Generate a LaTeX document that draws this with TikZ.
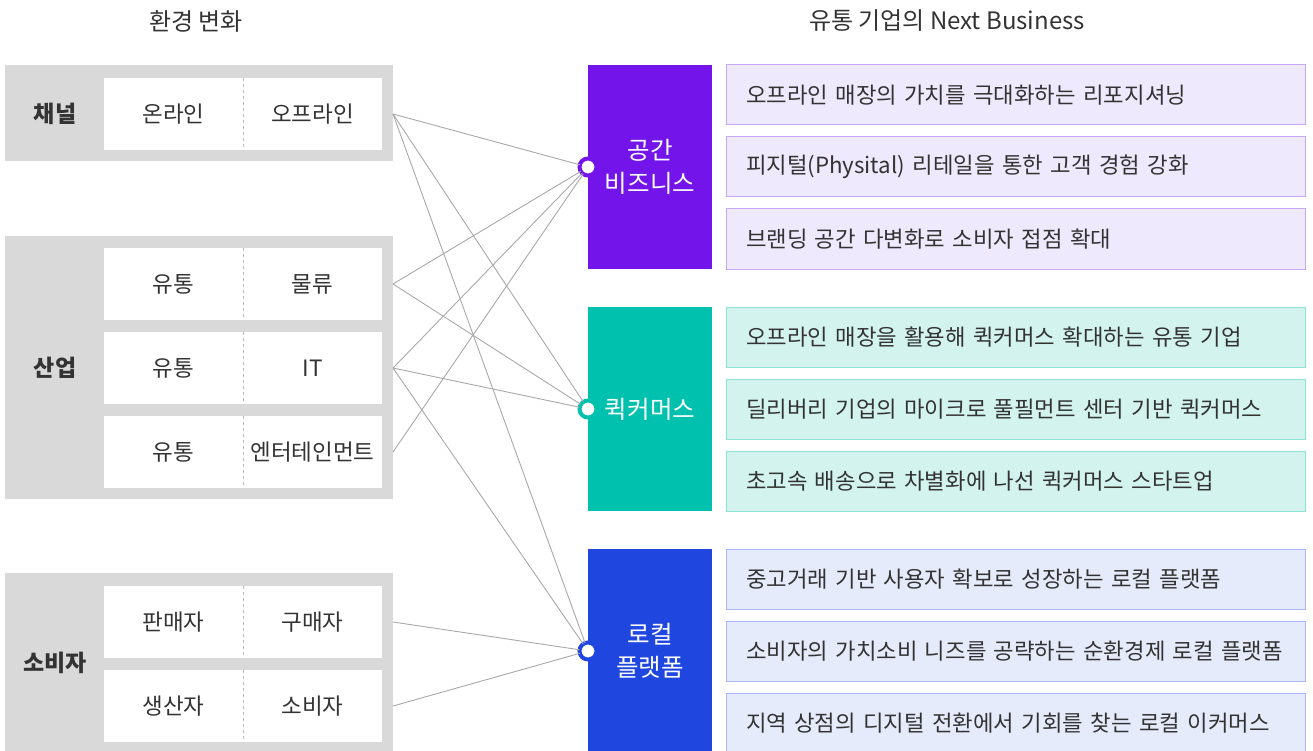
\documentclass[tikz,border=0pt]{standalone}
\usepackage{fontspec}
\setmainfont{Noto Sans CJK KR}
\definecolor{pgray}{HTML}{D9D9D9}
\definecolor{tdark}{HTML}{333333}
\definecolor{lgray}{HTML}{A8A8A8}
\definecolor{cpur}{HTML}{7214EA}
\definecolor{cteal}{HTML}{00C1AE}
\definecolor{cblue}{HTML}{1F47E0}
\definecolor{lpur}{HTML}{EEE9FC}
\definecolor{bpur}{HTML}{C6A8F4}
\definecolor{lteal}{HTML}{D3F3EF}
\definecolor{bteal}{HTML}{8FE0D6}
\definecolor{lblue}{HTML}{E6EBFB}
\definecolor{bblue}{HTML}{A9BAF2}
\begin{document}
\begin{tikzpicture}[x=1pt,y=-1pt,
  every node/.style={inner sep=0pt, outer sep=0pt},
  head/.style={text=tdark, font=\fontsize{24}{28}\selectfont},
  panel/.style={fill=pgray, minimum width=388pt, anchor=north west},
  plabel/.style={text=tdark, font=\bfseries\fontsize{23}{27}\selectfont},
  cell/.style={fill=white, minimum width=139pt, minimum height=72pt, text=tdark, font=\fontsize{22.5}{26}\selectfont},
  divider/.style={draw=lgray!80, dashed, line width=0.8pt},
  bigbox/.style={minimum width=124pt, minimum height=204pt, text=white, align=center, font=\fontsize{24.5}{33}\selectfont},
  desc/.style={draw=#1, line width=1pt, minimum height=60pt, text width=539pt, inner xsep=20pt, align=left, anchor=north west, text=tdark, font=\fontsize{22.3}{26}\selectfont},
  link/.style={draw=lgray, line width=0.9pt},
  dot/.style={circle, fill=white, draw=#1, line width=4pt, minimum size=17pt}
]
\useasboundingbox (0,0) rectangle (1313,751);
\clip (0,0) rectangle (1313,751);

% headers
\node[head] (h1) at (196,21) {환경 변화};
\node[head] (h2) at (947,21) {유통 기업의 Next Business};

% left panels
\node[panel, minimum height=96pt] (p1) at (5,65) {};
\node[panel, minimum height=263pt] (p2) at (5,236) {};
\node[panel, minimum height=182pt] (p3) at (5,573) {};
\node[plabel] (l1) at (55,114) {채널};
\node[plabel] (l2) at (55,368) {산업};
\node[plabel] (l3) at (55,663) {소비자};

% cells
\node[cell] (a1) at (173.5,114) {온라인};
\node[cell] (b1) at (312.5,114) {오프라인};
\node[cell] (a2) at (173.5,284) {유통};
\node[cell] (b2) at (312.5,284) {물류};
\node[cell] (a3) at (173.5,368) {유통};
\node[cell] (b3) at (312.5,368) {IT};
\node[cell] (a4) at (173.5,452) {유통};
\node[cell] (b4) at (312.5,452) {엔터테인먼트};
\node[cell] (a5) at (173.5,622) {판매자};
\node[cell] (b5) at (312.5,622) {구매자};
\node[cell] (a6) at (173.5,706) {생산자};
\node[cell] (b6) at (312.5,706) {소비자};
\foreach \n in {a1,a2,a3,a4,a5,a6}{
  \draw[divider] (\n.north east) -- (\n.south east);
}

% connector start points
\coordinate (s1) at (393,114);
\coordinate (s2) at (393,284);
\coordinate (s3) at (393,368);
\coordinate (s4) at (393,452);
\coordinate (s5) at (393,622);
\coordinate (s6) at (393,706);

% right big boxes
\node[bigbox, fill=cpur] (g1) at (650,167) {공간\\비즈니스};
\node[bigbox, fill=cteal] (g2) at (650,409) {퀵커머스};
\node[bigbox, fill=cblue] (g3) at (650,651) {로컬\\플랫폼};

% description boxes
\node[desc=bpur, fill=lpur] (d11) at (726,65) {\mbox{오프라인 매장의 가치를 극대화하는 리포지셔닝}};
\node[desc=bpur, fill=lpur] (d12) at (726,137) {\mbox{피지털(Physital) 리테일을 통한 고객 경험 강화}};
\node[desc=bpur, fill=lpur] (d13) at (726,209) {\mbox{브랜딩 공간 다변화로 소비자 접점 확대}};
\node[desc=bteal, fill=lteal] (d21) at (726,307) {\mbox{오프라인 매장을 활용해 퀵커머스 확대하는 유통 기업}};
\node[desc=bteal, fill=lteal] (d22) at (726,379) {\mbox{딜리버리 기업의 마이크로 풀필먼트 센터 기반 퀵커머스}};
\node[desc=bteal, fill=lteal] (d23) at (726,451) {\mbox{초고속 배송으로 차별화에 나선 퀵커머스 스타트업}};
\node[desc=bblue, fill=lblue] (d31) at (726,549) {\mbox{중고거래 기반 사용자 확보로 성장하는 로컬 플랫폼}};
\node[desc=bblue, fill=lblue] (d32) at (726,621) {\mbox{소비자의 가치소비 니즈를 공략하는 순환경제 로컬 플랫폼}};
\node[desc=bblue, fill=lblue] (d33) at (726,693) {\mbox{지역 상점의 디지털 전환에서 기회를 찾는 로컬 이커머스}};

% circles
\node[dot=cpur] (c1) at (588,167) {};
\node[dot=cteal] (c2) at (588,409) {};
\node[dot=cblue] (c3) at (588,651) {};

% connectors
\draw[link] (s1) -- (c1);
\draw[link] (s1) -- (c2);
\draw[link] (s1) -- (c3);
\draw[link] (s2) -- (c1);
\draw[link] (s2) -- (c2);
\draw[link] (s3) -- (c1);
\draw[link] (s3) -- (c2);
\draw[link] (s3) -- (c3);
\draw[link] (s4) -- (c1);
\draw[link] (s5) -- (c3);
\draw[link] (s6) -- (c3);
\end{tikzpicture}
\end{document}
